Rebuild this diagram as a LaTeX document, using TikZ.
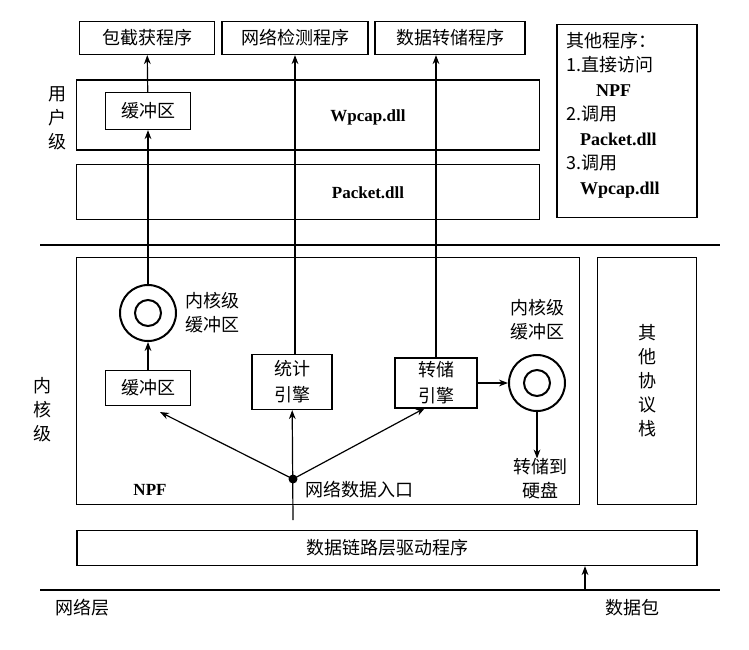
\documentclass[tikz,border=0pt]{standalone}
\usepackage{fontspec}
\newfontfamily\cjk{Noto Sans CJK SC}
\setmainfont{Liberation Serif}
\usetikzlibrary{positioning,arrows.meta}
\tikzset{
    box/.style={draw, very thick, inner sep=0pt, font=\cjk\fontsize{18}{26}\selectfont},
    lbl/.style={font=\cjk\fontsize{18}{24}\selectfont, align=center, inner sep=0pt},
    dll/.style={font=\fontsize{17}{20}\selectfont\bfseries, inner sep=0pt},
    flow/.style={-{Stealth[length=9pt]}, very thick},
    ring/.style={draw, line width=2pt, circle, minimum size=56pt, inner sep=0pt}
}
\begin{document}
\begin{tikzpicture}[x=1pt, y=-1pt]
    \useasboundingbox (0,0) rectangle (749,649);
    % user level
    \node[box, minimum width=135pt, minimum height=33pt] (cap) at (147,38) {包截获程序};
    \node[box, minimum width=146pt, minimum height=33pt] (mon) at (295,38) {网络检测程序};
    \node[box, minimum width=150pt, minimum height=33pt] (dump) at (450,38) {数据转储程序};
    \node[box, minimum width=140pt, minimum height=193pt] (other) at (627,121) {};
    \node[lbl, align=left, anchor=north west, font=\cjk\fontsize{18}{24.5}\selectfont] at (566,32) {其他程序：\\1.直接访问\\\hspace*{30pt}{\rmfamily\bfseries NPF}\\2.调用\\\hspace*{14pt}{\rmfamily\bfseries Packet.dll}\\3.调用\\\hspace*{14pt}{\rmfamily\bfseries Wpcap.dll}};
    \node[box, minimum width=463pt, minimum height=70pt] (wpcap) at (308,115) {};
    \node[dll] at (368,117) {Wpcap.dll};
    \node[box, minimum width=85pt, minimum height=37pt] (ubuf) at (148,111) {缓冲区};
    \node[box, minimum width=463pt, minimum height=55pt] (packet) at (308,192) {};
    \node[dll] at (368,193) {Packet.dll};
    \node[lbl] at (57,118) {用\\户\\级};
    \draw[very thick] (40,245) -- (720,245);
    % kernel level
    \node[box, minimum width=503pt, minimum height=247pt] (npf) at (328,381) {};
    \node[box, minimum width=99pt, minimum height=247pt, lbl, draw] (stack) at (647,381) {其\\他\\协\\议\\栈};
    \node[lbl] at (42,410) {内\\核\\级};
    \node[ring] (kbuf) at (148,313) {};
    \node[draw, line width=2pt, circle, minimum size=26pt] at (kbuf) {};
    \node[lbl, right=8pt of kbuf] {内核级\\缓冲区};
    \node[box, minimum width=85pt, minimum height=35pt] (kbox) at (148,388) {缓冲区};
    \node[box, minimum width=80pt, minimum height=55pt, align=center] (stat) at (292,382) {统计\\引擎};
    \node[box, minimum width=82pt, minimum height=50pt, align=center] (eng) at (436,383) {转储\\引擎};
    \node[ring] (dbuf) at (537,383) {};
    \node[draw, line width=2pt, circle, minimum size=26pt] at (dbuf) {};
    \node[lbl] at (537,320) {内核级\\缓冲区};
    \node[lbl] (disk) at (540,479) {转储到\\硬盘};
    \fill (293,479) circle (4.5pt) coordinate (entry);
    \node[font=\fontsize{17}{20}\selectfont\bfseries] at (150,490) {NPF};
    \node[lbl, anchor=west] at (305,490) {网络数据入口};
    % driver
    \node[box, minimum width=620pt, minimum height=35pt] (drv) at (387,548) {数据链路层驱动程序};
    \draw[very thick] (40,590) -- (720,590);
    \node[lbl] at (82,608) {网络层};
    \node[lbl] at (632,608) {数据包};
    \coordinate (pkt) at (585,590);
    \coordinate (bot) at (293,520);
    % flows
    \draw[flow] (kbox) -- (kbuf);
    \draw[flow] (kbuf) -- (ubuf);
    \draw[flow] (ubuf) -- (cap);
    \draw[flow] (bot) -- (stat);
    \draw[flow] (stat.north -| mon) -- (mon);
    \draw[flow] (entry) -- (160,412);
    \draw[flow] (entry) -- (425,408);
    \draw[flow] (eng) -- (dbuf);
    \draw[flow] (dbuf.south) -- (dbuf.south |- disk.north);
    \draw[flow] (eng.north) -- (eng.north |- dump.south);
    \draw[flow] (pkt) -- (drv.south -| pkt);
\end{tikzpicture}
\end{document}
